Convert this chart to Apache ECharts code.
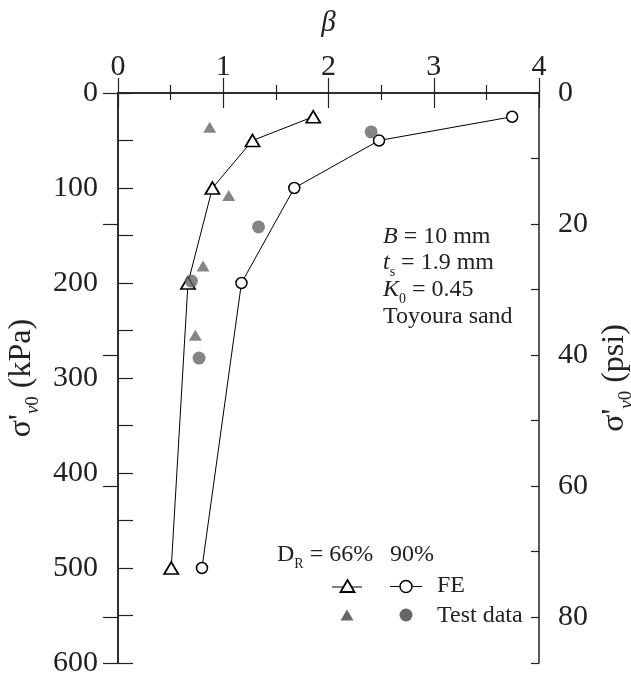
<!DOCTYPE html>
<html><head><meta charset="utf-8">
<script src="https://cdn.jsdelivr.net/npm/echarts@6/dist/echarts.min.js"></script>
<style>html,body{margin:0;padding:0;background:#fff;overflow:hidden}#c{width:631px;height:679px}</style>
</head><body><div id="c"></div>
<script>
// ---- data ----
const feSigma = [25, 50, 100, 200, 500];
const fe66Beta = [1.855, 1.278, 0.897, 0.665, 0.506];
const fe90Beta = [3.745, 2.48, 1.675, 1.173, 0.798];
const test66Beta = [0.871, 1.052, 0.808, 0.735];
const test66Sigma = [36, 108, 182, 255];
const test90Beta = [2.405, 1.335, 0.697, 0.770];
const test90Sigma = [41, 141, 198, 279];
const betaRange = [0, 4];
const kpaRange = [0, 600];
const KPA_PER_PSI = 6.894757;

const F = "'Liberation Serif','Times New Roman',serif";
const TC = '#222';
const AC = '#222';
const pairs = (xs, ys) => xs.map((x, i) => [x, ys[i]]);

const lineAxis = {show: true, lineStyle: {color: AC, width: 1.5}};
const tickStyle = {color: AC, width: 1.2};
const lab = {fontFamily: F, fontSize: 30, color: TC};

function nameRich() {
  return {
    fontFamily: F, fontSize: 32, color: TC,
    rich: {
      a: {fontFamily: F, fontSize: 32, color: TC, lineHeight: 36},
      v: {fontFamily: F, fontSize: 19, fontStyle: 'italic', color: TC, lineHeight: 19, verticalAlign: 'bottom', padding: [0, 0, -3, 0]},
      z: {fontFamily: F, fontSize: 19, color: TC, lineHeight: 19, verticalAlign: 'bottom', padding: [0, 0, -3, 0]}
    }
  };
}

const chart = echarts.init(document.getElementById('c'), null, {renderer: 'canvas', width: 631, height: 679});
const psiMax = kpaRange[1] / KPA_PER_PSI;

const option = {
  animation: false,
  grid: {left: 118, right: 92, top: 93, bottom: 16, containLabel: false, outerBoundsMode: 'none'},
  xAxis: [
    {type: 'value', position: 'top', min: betaRange[0], max: betaRange[1], interval: 1,
     name: 'β', nameLocation: 'middle', nameGap: 55,
     nameTextStyle: {fontFamily: F, fontSize: 29, fontStyle: 'italic', color: TC},
     axisLine: lineAxis, axisTick: {show: true, inside: true, length: 15, lineStyle: tickStyle},
     minorTick: {show: true, splitNumber: 2, length: 7, lineStyle: tickStyle},
     axisLabel: Object.assign({margin: 11}, lab), splitLine: {show: false}},
    {type: 'value', position: 'bottom', min: betaRange[0], max: betaRange[1], interval: 1,
     axisLine: lineAxis, axisTick: {show: true, inside: true, length: 15, lineStyle: tickStyle},
     minorTick: {show: true, splitNumber: 2, length: 8, lineStyle: tickStyle},
     axisLabel: {show: false}, splitLine: {show: false}}
  ],
  yAxis: [
    {type: 'value', position: 'left', inverse: true, min: kpaRange[0], max: kpaRange[1], interval: 50,
     name: "{a|σ'}{v|v}{z|0}{a| (kPa)}", nameLocation: 'middle', nameRotate: 90, nameGap: 72,
     nameTextStyle: nameRich(),
     axisLine: lineAxis, axisTick: {show: true, inside: true, length: 15, lineStyle: tickStyle},
     axisLabel: Object.assign({margin: 20, formatter: v => (v % 100 === 0 ? String(v) : '')}, lab),
     splitLine: {show: false}},
    {type: 'value', position: 'right', inverse: true, min: 0, max: psiMax, interval: 20,
     name: "{a|σ'}{v|v}{z|0}{a| (psi)}", nameLocation: 'middle', nameRotate: 90, nameGap: 58,
     nameTextStyle: nameRich(),
     axisLine: lineAxis, axisTick: {show: true, inside: true, length: 15, lineStyle: tickStyle},
     axisLabel: Object.assign({margin: 19, formatter: v => (Math.abs(v % 20) < 1e-6 ? String(Math.round(v)) : '')}, lab),
     splitLine: {show: false}},
    {type: 'value', position: 'right', inverse: true, min: 0, max: psiMax, interval: 10,
     axisLine: lineAxis, axisTick: {show: true, inside: true, length: 8, lineStyle: tickStyle},
     axisLabel: {show: false}, splitLine: {show: false}}
  ],
  series: [
    {type: 'line', name: 'FE 66%', xAxisIndex: 0, yAxisIndex: 0, data: pairs(fe66Beta, feSigma),
     symbol: 'triangle', symbolSize: [14, 12], lineStyle: {color: '#000', width: 1},
     itemStyle: {color: '#fff', borderColor: '#000', borderWidth: 1.8}, z: 3},
    {type: 'line', name: 'FE 90%', xAxisIndex: 0, yAxisIndex: 0, data: pairs(fe90Beta, feSigma),
     symbol: 'circle', symbolSize: 11, lineStyle: {color: '#000', width: 1},
     itemStyle: {color: '#fff', borderColor: '#000', borderWidth: 1.5}, z: 3},
    {type: 'scatter', name: 'Test 66%', xAxisIndex: 0, yAxisIndex: 0, data: pairs(test66Beta, test66Sigma),
     symbol: 'triangle', symbolSize: [13, 11], itemStyle: {color: '#666'}, z: 4},
    {type: 'scatter', name: 'Test 90%', xAxisIndex: 0, yAxisIndex: 0, data: pairs(test90Beta, test90Sigma),
     symbol: 'circle', symbolSize: 13, itemStyle: {color: '#666'}, z: 4}
  ],
  graphic: [
    {type: 'text', x: 383, y: 237, style: {text: '{i|B} = 10 mm', fontFamily: F, fontSize: 24, fill: TC, verticalAlign: 'middle',
      rich: {i: {fontFamily: F, fontSize: 24, fontStyle: 'italic', fill: TC}}}},
    {type: 'text', x: 383, y: 263, style: {text: '{i|t}{s|s}{n| = 1.9 mm}', fontFamily: F, fontSize: 24, fill: TC, verticalAlign: 'middle',
      rich: {i: {fontFamily: F, fontSize: 24, fontStyle: 'italic', fill: TC, lineHeight: 28},
             s: {fontFamily: F, fontSize: 14, fill: TC, lineHeight: 14, verticalAlign: 'bottom', padding: [0, 0, -2, 0]},
             n: {fontFamily: F, fontSize: 24, fill: TC, lineHeight: 28}}}},
    {type: 'text', x: 383, y: 290, style: {text: '{i|K}{s|0}{n| = 0.45}', fontFamily: F, fontSize: 24, fill: TC, verticalAlign: 'middle',
      rich: {i: {fontFamily: F, fontSize: 24, fontStyle: 'italic', fill: TC, lineHeight: 28},
             s: {fontFamily: F, fontSize: 14, fill: TC, lineHeight: 14, verticalAlign: 'bottom', padding: [0, 0, -2, 0]},
             n: {fontFamily: F, fontSize: 24, fill: TC, lineHeight: 28}}}},
    {type: 'text', x: 383, y: 317, style: {text: 'Toyoura sand', fontFamily: F, fontSize: 24, fill: TC, verticalAlign: 'middle'}},
    {type: 'text', x: 277, y: 555, style: {text: '{n|D}{s|R}{n| = 66%}', fontFamily: F, fontSize: 24, fill: TC, verticalAlign: 'middle',
      rich: {n: {fontFamily: F, fontSize: 24, fill: TC, lineHeight: 28},
             s: {fontFamily: F, fontSize: 14, fill: TC, lineHeight: 14, verticalAlign: 'bottom', padding: [0, 0, -2, 0]}}}},
    {type: 'text', x: 390, y: 555, style: {text: '90%', fontFamily: F, fontSize: 24, fill: TC, verticalAlign: 'middle'}},
    {type: 'text', x: 437, y: 586, style: {text: 'FE', fontFamily: F, fontSize: 24, fill: TC, verticalAlign: 'middle'}},
    {type: 'text', x: 437, y: 616, style: {text: 'Test data', fontFamily: F, fontSize: 24, fill: TC, verticalAlign: 'middle'}},
    {type: 'line', shape: {x1: 332, y1: 587, x2: 362, y2: 587}, style: {stroke: '#000', lineWidth: 1}},
    {type: 'polygon', shape: {points: [[347.5, 580], [354.5, 592], [340.5, 592]]}, style: {fill: '#fff', stroke: '#000', lineWidth: 1.8}},
    {type: 'line', shape: {x1: 390, y1: 586.5, x2: 422, y2: 586.5}, style: {stroke: '#000', lineWidth: 1}},
    {type: 'circle', shape: {cx: 406, cy: 586.5, r: 6}, style: {fill: '#fff', stroke: '#000', lineWidth: 1.5}},
    {type: 'polygon', shape: {points: [[347, 609.5], [353.5, 620.5], [340.5, 620.5]]}, style: {fill: '#666'}},
    {type: 'circle', shape: {cx: 406, cy: 615, r: 6.5}, style: {fill: '#666'}}
  ]
};
chart.setOption(option);
</script>
</body></html>
